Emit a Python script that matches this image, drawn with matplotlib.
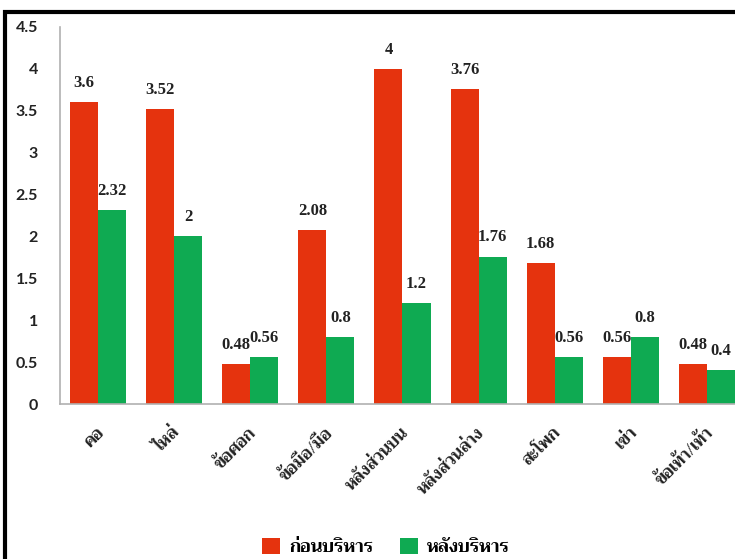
import matplotlib
matplotlib.use("Agg")
import matplotlib.pyplot as plt
from matplotlib import font_manager
from matplotlib.ft2font import FT2Font
from matplotlib.patches import Rectangle

categories = ["คอ", "ไหล่", "ข้อศอก", "ข้อมือ/มือ", "หลังส่วนบน",
              "หลังส่วนล่าง", "สะโพก", "เข่า", "ข้อเท้า/เท้า"]
before = [3.6, 3.52, 0.48, 2.08, 4.0, 3.76, 1.68, 0.56, 0.48]
after = [2.32, 2.0, 0.56, 0.8, 1.2, 1.76, 0.56, 0.8, 0.4]
series_names = ["ก่อนบริหาร", "หลังบริหาร"]
y_ticks = [0, 0.5, 1, 1.5, 2, 2.5, 3, 3.5, 4, 4.5]
y_tick_labels = ["0", "0.5", "1", "1.5", "2", "2.5", "3", "3.5", "4", "4.5"]

RED = "#E5330E"
GREEN = "#0FAA52"


def thai_families():
    """Return installed families that carry Thai glyphs (bold first)."""
    found = []
    for f in font_manager.fontManager.ttflist:
        try:
            cmap = FT2Font(f.fname).get_charmap()
        except Exception:
            continue
        if 0x0E01 in cmap and 0x0E2B in cmap:
            found.append((f.weight if isinstance(f.weight, int) else 400, f.name))
    names = []
    for _, n in sorted(found, reverse=True):
        if n not in names:
            names.append(n)
    return names


thai = thai_families()
TH_FAMILY = thai + ["DejaVu Sans"]

W, H = 735, 559
fig = plt.figure(figsize=(W / 100, H / 100), dpi=100)

# outer frame (top and left edges visible)
fig.patches.append(Rectangle((5 / W, -0.05), 1.2, (H - 12) / H + 0.05,
                             transform=fig.transFigure, fill=False,
                             edgecolor="black", linewidth=3, zorder=0))

ax_left, ax_right = 60 / W, 745 / W
ax_bottom, ax_top = 1 - 404 / H, 1 - 27 / H
ax = fig.add_axes([ax_left, ax_bottom, ax_right - ax_left, ax_top - ax_bottom])

x = list(range(len(categories)))
bw = 0.368
xr = [i - bw / 2 for i in x]
xg = [i + bw / 2 for i in x]
bars_r = ax.bar(xr, before, width=bw, color=RED, label=series_names[0], zorder=2)
bars_g = ax.bar(xg, after, width=bw, color=GREEN, label=series_names[1], zorder=2)

ax.set_xlim(-0.5, 8.5)
ax.set_ylim(0, 4.5)
ax.set_yticks(y_ticks)
ax.set_yticklabels(y_tick_labels, fontfamily="Lato", fontweight="bold",
                   fontsize=11.5, color="#222222")
ax.tick_params(axis="y", length=0, pad=16)
ax.tick_params(axis="x", length=0)

for s in ["top", "right"]:
    ax.spines[s].set_visible(False)
for s in ["left", "bottom"]:
    ax.spines[s].set_color("#b0b0b0")
    ax.spines[s].set_linewidth(1.2)

# value labels
for xs, vals in ((xr, before), (xg, after)):
    for xv, v in zip(xs, vals):
        ax.annotate(f"{v:g}", (xv, v), xytext=(0, 8), textcoords="offset points",
                    ha="center", va="bottom", fontfamily="Liberation Serif",
                    fontweight="bold", fontsize=12, color="#222222")

# category labels
ax.set_xticks([i + 0.05 for i in x])
ax.set_xticklabels(categories, rotation=45, ha="right", va="center",
                   rotation_mode="anchor", fontfamily=TH_FAMILY,
                   fontweight="bold", fontsize=12, color="#222222")
ax.tick_params(axis="x", pad=19)

leg = fig.legend(handles=[bars_r, bars_g], labels=series_names,
                 loc="center", bbox_to_anchor=(386 / W, 1 - 547 / H),
                 ncol=2, frameon=False, handlelength=1.0, handleheight=1.0,
                 columnspacing=1.5, handletextpad=0.5,
                 prop={"family": TH_FAMILY, "weight": "bold", "size": 13})

fig.savefig("out.png", dpi=100)
